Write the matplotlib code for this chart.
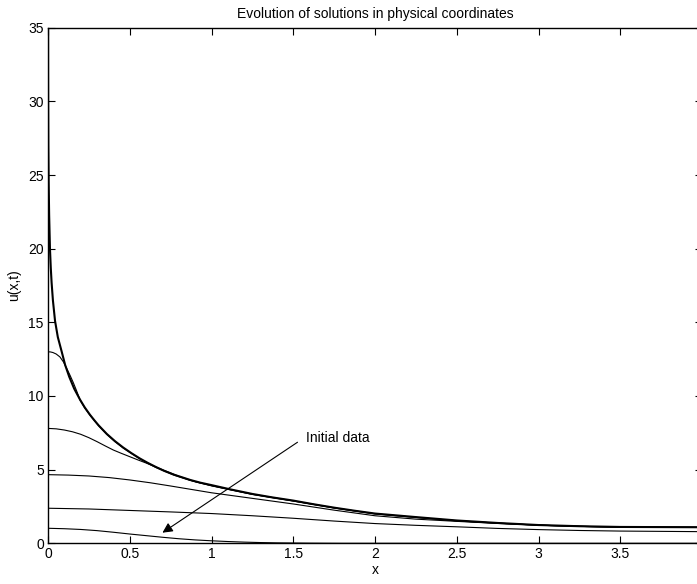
import numpy as np
import matplotlib
matplotlib.use("Agg")
import matplotlib.pyplot as plt
from matplotlib.ticker import FormatStrFormatter

plt.rcParams['font.family'] = ['Liberation Sans', 'DejaVu Sans']

# singular steady state (drawn thick)
x_sing = [0.0003, 0.0006, 0.001, 0.002, 0.004, 0.007, 0.012, 0.017, 0.022, 0.03, 0.043,
          0.06, 0.084, 0.105, 0.13, 0.16, 0.196, 0.225, 0.257, 0.285, 0.31, 0.36, 0.41,
          0.46, 0.51, 0.56, 0.61, 0.66, 0.71, 0.77, 0.87, 0.93, 1.0, 1.12, 1.25, 1.37,
          1.5, 1.62, 1.75, 1.87, 2.0, 2.25, 2.5, 2.75, 3.0, 3.25, 3.5, 3.75, 4.0]
u_sing = [35.5, 32.0, 30.0, 27.0, 24.5, 22.3, 20.0, 18.7, 17.7, 16.5, 15.1,
          14.0, 13.0, 12.1, 11.3, 10.5, 9.75, 9.22, 8.72, 8.33, 8.0, 7.42, 6.93,
          6.5, 6.12, 5.77, 5.46, 5.18, 4.92, 4.66, 4.3, 4.12, 3.95, 3.65, 3.35, 3.12,
          2.9, 2.66, 2.42, 2.22, 2.02, 1.78, 1.55, 1.38, 1.24, 1.16, 1.11, 1.1, 1.09]

# solution with u(0) ~ 13
x_13 = [0.0, 0.015, 0.03, 0.05, 0.073, 0.095, 0.114, 0.135, 0.155, 0.175, 0.196, 0.225,
        0.257, 0.31, 0.36, 0.41, 0.46, 0.56, 0.66, 0.77, 0.87, 1.0, 1.25, 1.5, 1.75, 2.0,
        2.25, 2.5, 2.75, 3.0, 3.25, 3.5, 3.75, 4.0]
u_13 = [13.0, 12.99, 12.95, 12.85, 12.65, 12.3, 11.88, 11.4, 10.9, 10.35, 9.72, 9.18,
        8.69, 7.97, 7.39, 6.9, 6.47, 5.74, 5.15, 4.63, 4.27, 3.92, 3.33, 2.88, 2.4, 2.0,
        1.76, 1.53, 1.37, 1.23, 1.15, 1.1, 1.09, 1.08]

# solution with u(0) ~ 7.8
x_8 = [0.0, 0.05, 0.1, 0.15, 0.2, 0.25, 0.3, 0.35, 0.4, 0.45, 0.5, 0.55, 0.6, 0.65, 0.7,
       0.8, 0.9, 1.0, 1.25, 1.5, 1.75, 2.0, 2.25, 2.5, 2.75, 3.0, 3.25, 3.5, 3.75, 4.0]
u_8 = [7.8, 7.77, 7.69, 7.57, 7.4, 7.17, 6.9, 6.61, 6.33, 6.1, 5.88, 5.66, 5.45, 5.22, 5.0,
       4.55, 4.18, 3.9, 3.32, 2.87, 2.4, 2.0, 1.76, 1.53, 1.37, 1.23, 1.15, 1.1, 1.09, 1.08]

# solution with u(0) ~ 4.7
x_5 = [0.0, 0.125, 0.25, 0.375, 0.5, 0.625, 0.75, 0.875, 1.0, 1.25, 1.5, 1.75, 2.0, 2.25,
       2.5, 2.75, 3.0, 3.25, 3.5, 3.75, 4.0]
u_5 = [4.66, 4.63, 4.57, 4.46, 4.3, 4.11, 3.89, 3.66, 3.43, 3.05, 2.67, 2.25, 1.87, 1.64,
       1.49, 1.35, 1.23, 1.15, 1.1, 1.09, 1.08]

# solution with u(0) ~ 2.4
x_2 = [0.0, 0.25, 0.5, 0.75, 1.0, 1.25, 1.5, 1.75, 2.0, 2.25, 2.5, 2.75, 3.0, 3.25,
       3.5, 3.75, 4.0]
u_2 = [2.38, 2.33, 2.23, 2.13, 2.02, 1.87, 1.7, 1.51, 1.34, 1.22, 1.12, 1.01, 0.93, 0.87,
       0.83, 0.81, 0.79]

# initial data
x_0 = [0.0, 0.1, 0.2, 0.3, 0.4, 0.5, 0.6, 0.7, 0.8, 0.9, 1.0, 1.1, 1.2, 1.3, 1.4, 1.6,
       1.8, 4.0]
u_0 = [1.02, 0.99, 0.94, 0.86, 0.75, 0.63, 0.52, 0.41, 0.31, 0.23, 0.17, 0.12, 0.08, 0.05,
       0.03, 0.01, 0.0, 0.0]

xticks = [0, 0.5, 1, 1.5, 2, 2.5, 3, 3.5]
yticks = [0, 5, 10, 15, 20, 25, 30, 35]

fig = plt.figure(figsize=(6.97, 5.84), dpi=100)
ax = fig.add_axes([48 / 697, 40.7 / 584, 654 / 697, 515.6 / 584])

thin = 0.8
ax.plot(x_0, u_0, color='k', lw=thin)
ax.plot(x_2, u_2, color='k', lw=thin)
ax.plot(x_5, u_5, color='k', lw=thin)
ax.plot(x_8, u_8, color='k', lw=thin)
ax.plot(x_13, u_13, color='k', lw=thin)
ax.plot(x_sing, u_sing, color='k', lw=1.5)

ax.set_xlim(0, 4)
ax.set_ylim(0, 35)
ax.set_xticks(xticks)
ax.set_yticks(yticks)
ax.xaxis.set_major_formatter(FormatStrFormatter('%g'))
ax.yaxis.set_major_formatter(FormatStrFormatter('%g'))
ax.tick_params(direction='in', top=True, right=True, length=5, width=0.8,
               labelsize=10, pad=3, colors='k')
for s in ax.spines.values():
  s.set_linewidth(1.0)

ax.annotate('', xy=(0.70, 0.72), xytext=(1.526, 6.86),
            arrowprops=dict(arrowstyle='-|>', color='k', lw=0.8,
                            mutation_scale=15, shrinkA=0, shrinkB=0))
ax.text(1.577, 7.15, 'Initial data', fontsize=10, va='center', ha='left')

ax.set_xlabel('x', fontsize=10, labelpad=1)
ax.set_ylabel('u(x,t)', fontsize=10, labelpad=5)
ax.set_title('Evolution of solutions in physical coordinates', fontsize=10, pad=7)

fig.savefig('out.png', dpi=100)
